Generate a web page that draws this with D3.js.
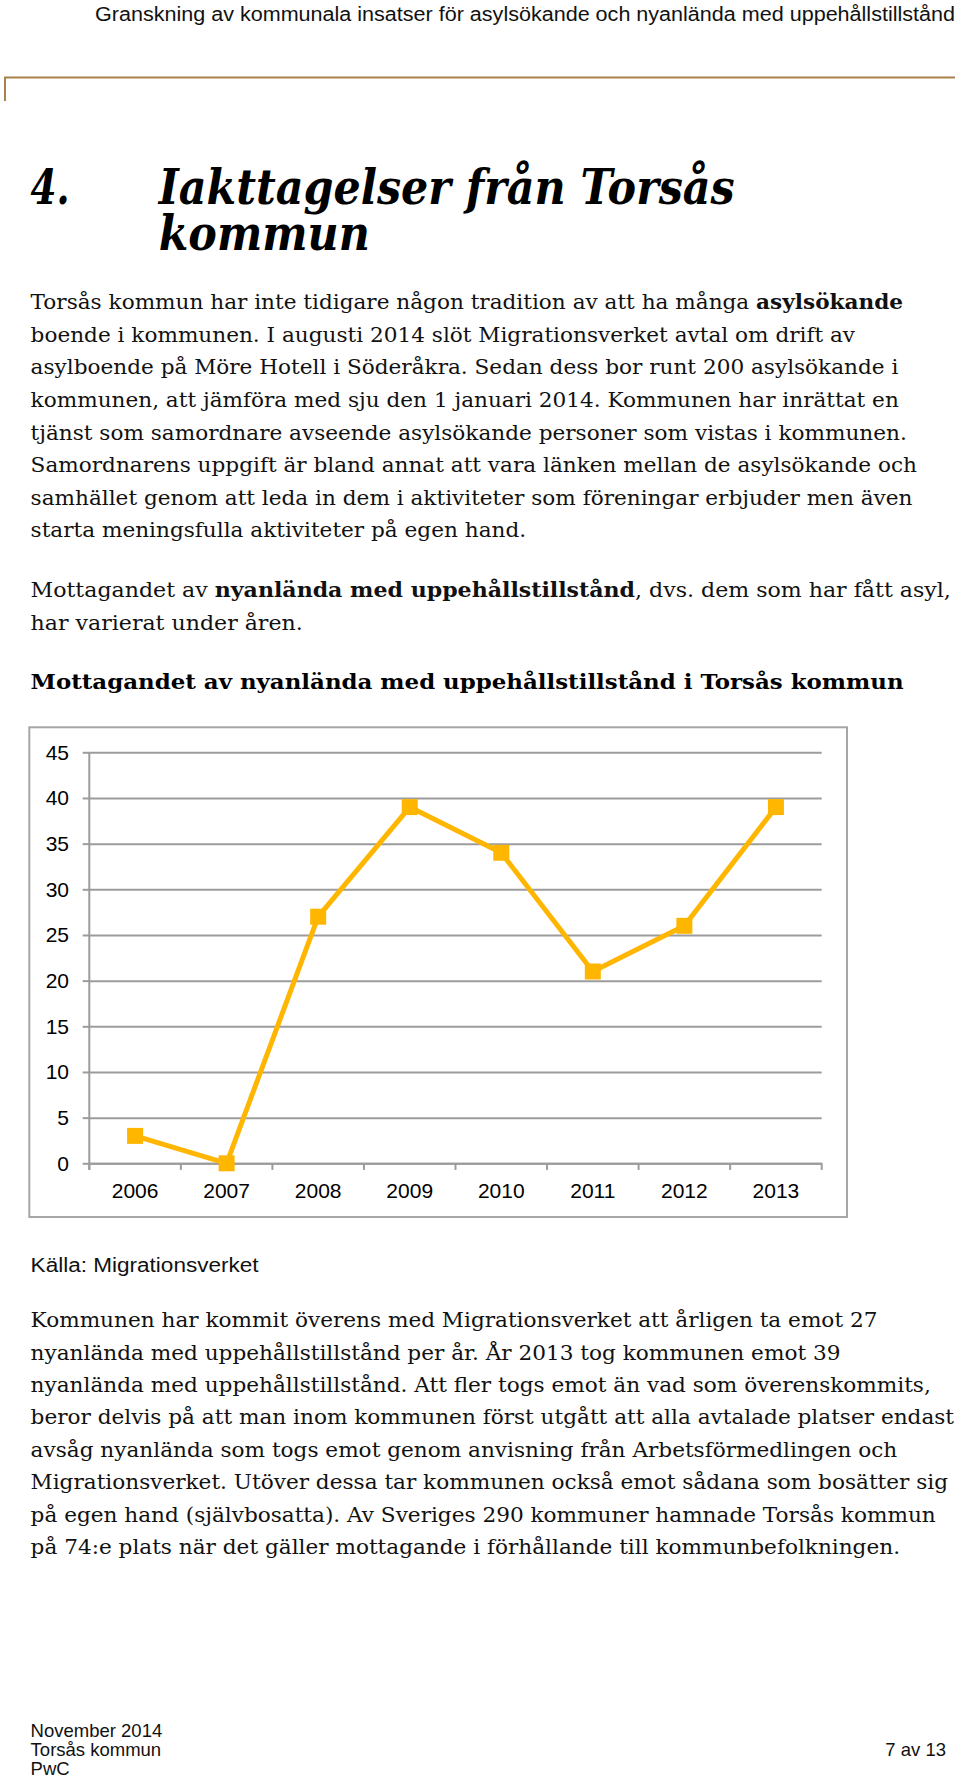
<!DOCTYPE html>
<html><head><meta charset="utf-8">
<script src="https://cdn.jsdelivr.net/npm/d3@7"></script>
<style>body{margin:0;background:#fff;} svg{display:block;}</style>
</head><body>
<svg id="page" width="960" height="1778"></svg>
<script>
// ---------- data ----------
const years = ["2006","2007","2008","2009","2010","2011","2012","2013"];
const values = [3, 0, 27, 39, 34, 21, 26, 39];
const yTicks = [0, 5, 10, 15, 20, 25, 30, 35, 40, 45];

const headerText = "Granskning av kommunala insatser för asylsökande och nyanlända med uppehållstillstånd";
const headingNumber = "4.";
const headingLines = ["Iakttagelser från Torsås", "kommun"];
const chartTitle = "Mottagandet av nyanlända med uppehållstillstånd i Torsås kommun";
const sourceText = "Källa: Migrationsverket";
const footerLeft = ["November 2014", "Torsås kommun", "PwC"];
const footerRight = "7 av 13";

// each line: array of [text, bold]
const para1 = [
  [["Torsås kommun har inte tidigare någon tradition av att ha många ", 0], ["asylsökande", 1]],
  [["boende i kommunen. I augusti 2014 slöt Migrationsverket avtal om drift av", 0]],
  [["asylboende på Möre Hotell i Söderåkra. Sedan dess bor runt 200 asylsökande i", 0]],
  [["kommunen, att jämföra med sju den 1 januari 2014. Kommunen har inrättat en", 0]],
  [["tjänst som samordnare avseende asylsökande personer som vistas i kommunen.", 0]],
  [["Samordnarens uppgift är bland annat att vara länken mellan de asylsökande och", 0]],
  [["samhället genom att leda in dem i aktiviteter som föreningar erbjuder men även", 0]],
  [["starta meningsfulla aktiviteter på egen hand.", 0]]
];
const para2 = [
  [["Mottagandet av ", 0], ["nyanlända med uppehållstillstånd", 1], [", dvs. dem som har fått asyl,", 0]],
  [["har varierat under åren.", 0]]
];
const para3 = [
  [["Kommunen har kommit överens med Migrationsverket att årligen ta emot 27", 0]],
  [["nyanlända med uppehållstillstånd per år. År 2013 tog kommunen emot 39", 0]],
  [["nyanlända med uppehållstillstånd. Att fler togs emot än vad som överenskommits,", 0]],
  [["beror delvis på att man inom kommunen först utgått att alla avtalade platser endast", 0]],
  [["avsåg nyanlända som togs emot genom anvisning från Arbetsförmedlingen och", 0]],
  [["Migrationsverket. Utöver dessa tar kommunen också emot sådana som bosätter sig", 0]],
  [["på egen hand (självbosatta). Av Sveriges 290 kommuner hamnade Torsås kommun", 0]],
  [["på 74:e plats när det gäller mottagande i förhållande till kommunbefolkningen.", 0]]
];
// ---------- end data ----------

const svg = d3.select("#page");
const SANS = "'Liberation Sans', Arial, sans-serif";
const SERIF = "'DejaVu Serif', Georgia, serif";
const LEFT = 30.6;

function fit(sel, width) {
  sel.attr("textLength", width).attr("lengthAdjust", "spacingAndGlyphs");
  return sel;
}

// header
fit(svg.append("text").attr("x", 95).attr("y", 21)
  .attr("font-family", SANS).attr("font-size", 19.5).attr("fill", "#111")
  .text(headerText), 860);

svg.append("path").attr("d", "M5,101 V77.5 H955")
  .attr("fill", "none").attr("stroke", "#a8824a").attr("stroke-width", 2);

// heading (one wrapped text block)
const hg = svg.append("g").attr("font-family", SERIF).attr("font-weight", "bold")
  .attr("font-style", "italic").attr("font-size", 49).attr("fill", "#000");
fit(hg.append("text").attr("x", 30.6).attr("y", 204).text(headingNumber), 39);
const hText = hg.append("text").attr("x", 158.7).attr("y", 204);
const hs1 = hText.append("tspan").attr("x", 158.7).attr("y", 204).text(headingLines[0]);
const hs2 = hText.append("tspan").attr("x", 158.7).attr("y", 250).text(headingLines[1]);
const n1 = hs1.node().getComputedTextLength();
const n2 = hs2.node().getComputedTextLength();
const hScale = 576 / n1;
fit(hs1, 576);
fit(hs2, n2 * hScale);

// paragraph helper
function paragraph(lines, baseline0, step, targets, size) {
  const g = svg.append("g").attr("transform", `translate(${LEFT},0)`);
  const inner = g.append("g");
  const texts = lines.map((segs, i) => {
    const t = inner.append("text").attr("x", 0).attr("y", baseline0 + i * step)
      .attr("font-family", SERIF).attr("font-size", size).attr("fill", "#111");
    segs.forEach(([s, b]) => t.append("tspan").attr("font-weight", b ? "bold" : "normal").text(s));
    return t;
  });
  let sumT = 0, sumN = 0;
  targets.forEach((w, i) => { if (w) { sumT += w; sumN += texts[i].node().getComputedTextLength(); } });
  const sx = sumT / sumN;
  inner.attr("transform", `scale(${sx},1)`);
  return sx;
}

const BODY = 20.5;
paragraph(para1, 309.3, 32.6, [884, 0, 863, 872, 876, 883, 878, 0], BODY);
paragraph(para2, 597, 32.6, [921, 0], BODY);
paragraph(para3, 1327.3, 32.4, [848, 814, 906, 921, 866, 912, 912, 866], BODY);

// chart title
fit(svg.append("text").attr("x", LEFT).attr("y", 689.3)
  .attr("font-family", SERIF).attr("font-weight", "bold").attr("font-size", 20.5).attr("fill", "#000")
  .text(chartTitle), 873);

// ---------- chart ----------
const box = {x0: 29.3, y0: 727.3, x1: 847, y1: 1217};
svg.append("rect").attr("x", box.x0).attr("y", box.y0)
  .attr("width", box.x1 - box.x0).attr("height", box.y1 - box.y0)
  .attr("fill", "#fff").attr("stroke", "#a6a6a6").attr("stroke-width", 2);

const plot = {x0: 89.3, x1: 821.7, yTop: 752.3, yBot: 1163.3};
const x = d3.scaleBand().domain(years).range([plot.x0, plot.x1]);
const y = d3.scaleLinear().domain([0, 45]).range([plot.yBot, plot.yTop]);
const GRID = "#9c9c9c";

// gridlines
const grid = svg.append("g").attr("transform", `translate(${plot.x0},0)`)
  .call(d3.axisLeft(y).tickValues(yTicks).tickSize(-(plot.x1 - plot.x0)).tickFormat(""));
grid.select(".domain").remove();
grid.selectAll("line").attr("stroke", GRID).attr("stroke-width", 2);

// y axis with ticks + labels
const yAx = svg.append("g").attr("transform", `translate(${plot.x0},0)`)
  .call(d3.axisLeft(y).tickValues(yTicks).tickSize(6.6).tickSizeOuter(0).tickPadding(13.7));
yAx.select(".domain").remove();
yAx.selectAll("line").attr("stroke", GRID).attr("stroke-width", 2);
yAx.selectAll("text").attr("font-family", SANS).attr("font-size", 21).attr("fill", "#000");
svg.append("line").attr("x1", plot.x0).attr("x2", plot.x0)
  .attr("y1", plot.yTop).attr("y2", plot.yBot + 6.6)
  .attr("stroke", GRID).attr("stroke-width", 2);

// x axis labels
const xAx = svg.append("g").attr("transform", `translate(0,${plot.yBot})`)
  .call(d3.axisBottom(x).tickSize(0).tickPadding(20));
xAx.select(".domain").attr("stroke", GRID).attr("stroke-width", 2);
xAx.selectAll("text").attr("font-family", SANS).attr("font-size", 21).attr("fill", "#000");
// category boundary ticks
const bounds = years.map(d => x(d)).concat([x.range()[1]]);
svg.append("g").selectAll("line").data(bounds).join("line")
  .attr("x1", d => d).attr("x2", d => d)
  .attr("y1", plot.yBot).attr("y2", plot.yBot + 6.6)
  .attr("stroke", GRID).attr("stroke-width", 2);

// line + markers
const ORANGE = "#ffb600";
const pts = years.map((d, i) => [x(d) + x.bandwidth() / 2, y(values[i])]);
svg.append("path").attr("d", d3.line()(pts))
  .attr("fill", "none").attr("stroke", ORANGE).attr("stroke-width", 5)
  .attr("stroke-linejoin", "round");
svg.append("g").selectAll("rect").data(pts).join("rect")
  .attr("x", d => d[0] - 8).attr("y", d => d[1] - 8)
  .attr("width", 16).attr("height", 16).attr("fill", ORANGE);

// source
fit(svg.append("text").attr("x", LEFT).attr("y", 1272.3)
  .attr("font-family", SANS).attr("font-size", 19.5).attr("fill", "#111")
  .text(sourceText), 228);

// footer (one block of three lines)
const ft = svg.append("text").attr("font-family", SANS).attr("font-size", 18.5).attr("fill", "#111");
footerLeft.forEach((t, i) => {
  ft.append("tspan").attr("x", LEFT).attr("y", 1737 + i * 19).text(t);
});
svg.append("text").attr("x", 946).attr("y", 1756).attr("text-anchor", "end")
  .attr("font-family", SANS).attr("font-size", 18.5).attr("fill", "#111").text(footerRight);
</script>
</body></html>
